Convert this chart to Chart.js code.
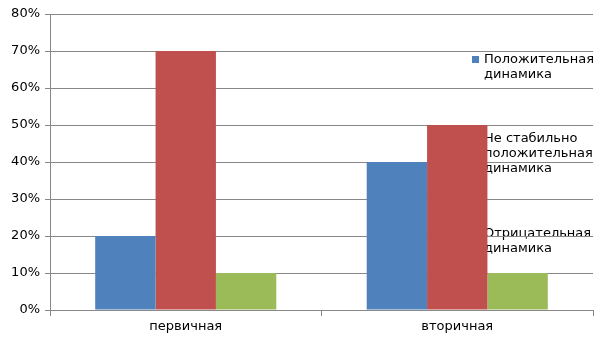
<!DOCTYPE html>
<html>
<head>
<meta charset="utf-8">
<script src="https://cdn.jsdelivr.net/npm/chart.js@4"></script>
<style>
  body { margin: 0; background: #fff; }
  #wrap { width: 605px; height: 340px; }
</style>
</head>
<body>
<div id="wrap"><canvas id="miGrafica"></canvas></div>
<script>
// datos del grafico
var categorias = ["первичная", "вторичная"]
var positiva = [20, 40]
var noEstable = [70, 50]
var negativa = [10, 10]
var nombresSeries = [
  ["Положительная", "динамика"],
  ["Не стабильно", "положительная", "динамика"],
  ["Отрицательная", "динамика"]
]
var barColors = ["#4F81BD", "#C0504D", "#9BBB59"]

Chart.defaults.font.family = "'DejaVu Sans', sans-serif"
Chart.defaults.font.size = 13
Chart.defaults.color = "#000"

// la leyenda se pinta antes que la rejilla y las barras (como en el original)
var leyendaAtras = {
  id: "leyendaAtras",
  beforeDraw: function (chart) {
    var ctx = chart.ctx
    var filas = [60, 139, 234] // centro vertical de la primera linea de cada serie
    ctx.save()
    ctx.font = "13px 'DejaVu Sans', sans-serif"
    ctx.textBaseline = "middle"
    ctx.fillStyle = "#000"
    chart.data.datasets.forEach(function (ds, i) {
      var y = filas[i]
      ctx.fillStyle = ds.backgroundColor
      ctx.fillRect(472, y - 4, 7, 7)
      ctx.fillStyle = "#000"
      nombresSeries[i].forEach(function (linea, j) {
        ctx.fillText(linea, 484, y + j * 15)
      })
    })
    ctx.restore()
  }
}

new Chart("miGrafica", {
  type: "bar",
  data: {
    labels: categorias,
    datasets: [
      { label: nombresSeries[0].join(" "), data: positiva, backgroundColor: barColors[0] },
      { label: nombresSeries[1].join(" "), data: noEstable, backgroundColor: barColors[1] },
      { label: nombresSeries[2].join(" "), data: negativa, backgroundColor: barColors[2] }
    ]
  },
  options: {
    responsive: true,
    maintainAspectRatio: false,
    animation: false,
    layout: { padding: { top: 14, right: 12, left: 0, bottom: 0 } },
    datasets: { bar: { categoryPercentage: 0.667, barPercentage: 1 } },
    plugins: {
      legend: { display: false },
      tooltip: { enabled: false }
    },
    scales: {
      x: {
        grid: { drawOnChartArea: false, color: "#888", tickLength: 6 },
        border: { color: "#888" },
        ticks: { padding: 3 },
        afterFit: function (scale) { scale.height = 30 }
      },
      y: {
        min: 0,
        max: 80,
        ticks: {
          stepSize: 10,
          padding: 5,
          callback: function (v) { return v + "%" }
        },
        grid: { color: "#888", tickLength: 5 },
        border: { color: "#888" },
        afterFit: function (scale) { scale.width = 50 }
      }
    }
  },
  plugins: [leyendaAtras]
})
</script>
</body>
</html>
